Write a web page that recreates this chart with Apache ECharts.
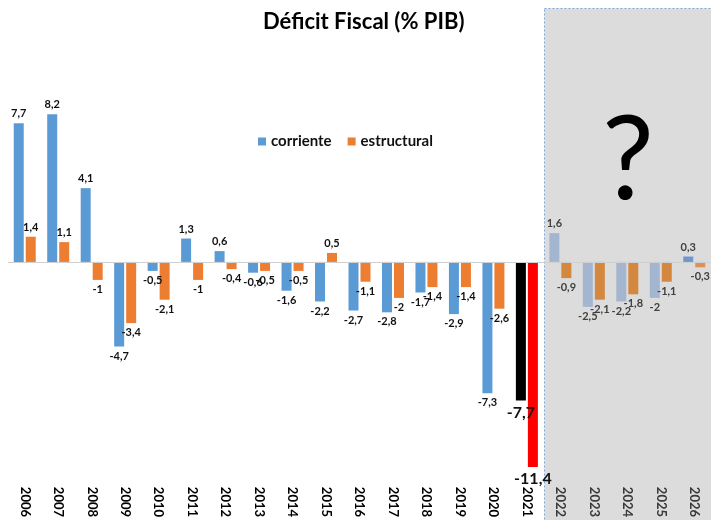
<!DOCTYPE html>
<html>
<head>
<meta charset="utf-8">
<script src="https://cdn.jsdelivr.net/npm/echarts@6/dist/echarts.min.js"></script>
<style>
  html, body { margin: 0; padding: 0; background: #fff; }
  #chart { width: 711px; height: 520px; }
</style>
</head>
<body>
<div id="chart"></div>
<script>
// años
const years = ["2006", "2007", "2008", "2009", "2010", "2011", "2012", "2013", "2014", "2015", "2016",
  "2017", "2018", "2019", "2020", "2021", "2022", "2023", "2024", "2025", "2026"];
// déficit corriente (% PIB)
const corriente = [7.7, 8.2, 4.1, -4.7, -0.5, 1.3, 0.6, -0.6, -1.6, -2.2, -2.7,
  -2.8, -1.7, -2.9, -7.3, -7.7, 1.6, -2.5, -2.2, -2, 0.3];
// déficit estructural (% PIB)
const estructural = [1.4, 1.1, -1, -3.4, -2.1, -1, -0.4, -0.5, -0.5, 0.5, -1.1,
  -2, -1.4, -1.4, -2.6, -11.4, -0.9, -2.1, -1.8, -1.1, -0.3];

const FONT = "Lato";
const firstForecast = "2022";
const highlightYear = "2021";

const fmt = v => String(v).replace(".", ",");

function buildData(values, base, faded, last, highlight) {
  return values.map((v, i) => {
    const y = years[i];
    const forecast = y >= firstForecast;
    let color = base;
    if (forecast) color = (y === years[years.length - 1]) ? last : faded;
    if (y === highlightYear) color = highlight;
    const big = y === highlightYear;
    return {
      value: v,
      itemStyle: { color: color },
      label: {
        position: v >= 0 ? "top" : "bottom",
        fontSize: big ? 16 : 11,
        color: forecast ? "#404040" : "#111",
        distance: big ? 4 : 4
      }
    };
  });
}

const chart = echarts.init(document.getElementById("chart"));

const labelBase = {
  show: true,
  fontFamily: FONT,
  fontWeight: "bold",
  formatter: p => fmt(p.value)
};

const option = {
  animation: false,
  title: {
    text: "Déficit Fiscal (% PIB)",
    left: 258,
    top: 6,
    textStyle: { fontFamily: FONT, fontWeight: "bold", fontSize: 22, color: "#000" }
  },
  legend: {
    data: ["corriente", "estructural"],
    left: 253,
    top: 129,
    itemWidth: 8,
    itemHeight: 8,
    itemGap: 16,
    icon: "rect",
    textStyle: { fontFamily: FONT, fontWeight: "bold", fontSize: 15, color: "#111" }
  },
  grid: { left: 8, right: -3, top: 46, bottom: 42, containLabel: false },
  xAxis: {
    type: "category",
    data: years,
    axisLine: { show: false, onZero: false },
    axisTick: { show: false },
    axisLabel: {
      rotate: -90,
      margin: 9,
      interval: 0,
      fontFamily: FONT,
      fontWeight: "bold",
      fontSize: 13,
      color: "#000",
      formatter: v => (v >= firstForecast ? "{f|" + v + "}" : v),
      rich: {
        f: { fontFamily: FONT, fontWeight: "bold", fontSize: 13, color: "#3a3a3a" }
      }
    }
  },
  yAxis: {
    type: "value",
    min: -12,
    max: 12,
    show: false,
    splitLine: { show: false }
  },
  series: [
    {
      name: "corriente",
      type: "bar",
      barWidth: 10,
      barGap: "20%",
      itemStyle: { color: "#5b9bd5" },
      label: labelBase,
      data: buildData(corriente, "#5b9bd5", "#a4b6cf", "#6f97cf", "#000000"),
      markLine: {
        silent: true,
        symbol: "none",
        label: { show: false },
        lineStyle: { color: "#d0d0d0", width: 1, type: "solid" },
        data: [{ yAxis: 0 }]
      },
      z: 3
    },
    {
      name: "estructural",
      type: "bar",
      barWidth: 10,
      itemStyle: { color: "#ed7d31" },
      label: labelBase,
      data: buildData(estructural, "#ed7d31", "#d4873f", "#dc9155", "#ff0000"),
      z: 3
    }
  ]
};

chart.setOption(option);

// zona de proyección sombreada (desde el límite entre 2021 y 2022)
const xa = chart.convertToPixel({ xAxisIndex: 0 }, highlightYear);
const xb = chart.convertToPixel({ xAxisIndex: 0 }, firstForecast);
const xEdge = Math.round((xa + xb) / 2) + 0.5;

chart.setOption({
  graphic: [
    {
      type: "rect",
      z: 0,
      silent: true,
      shape: { x: xEdge, y: 8.5, width: 711 - xEdge + 5, height: 530 },
      style: { fill: "#dcdcdc", stroke: "#7fa6d6", lineWidth: 1, lineDash: [2, 2] }
    },
    {
      type: "text",
      z: 10,
      silent: true,
      left: 602,
      top: 104,
      style: { text: "?", fontFamily: FONT, fontSize: 116, fontWeight: "normal", fill: "#000" }
    }
  ]
});
</script>
</body>
</html>
